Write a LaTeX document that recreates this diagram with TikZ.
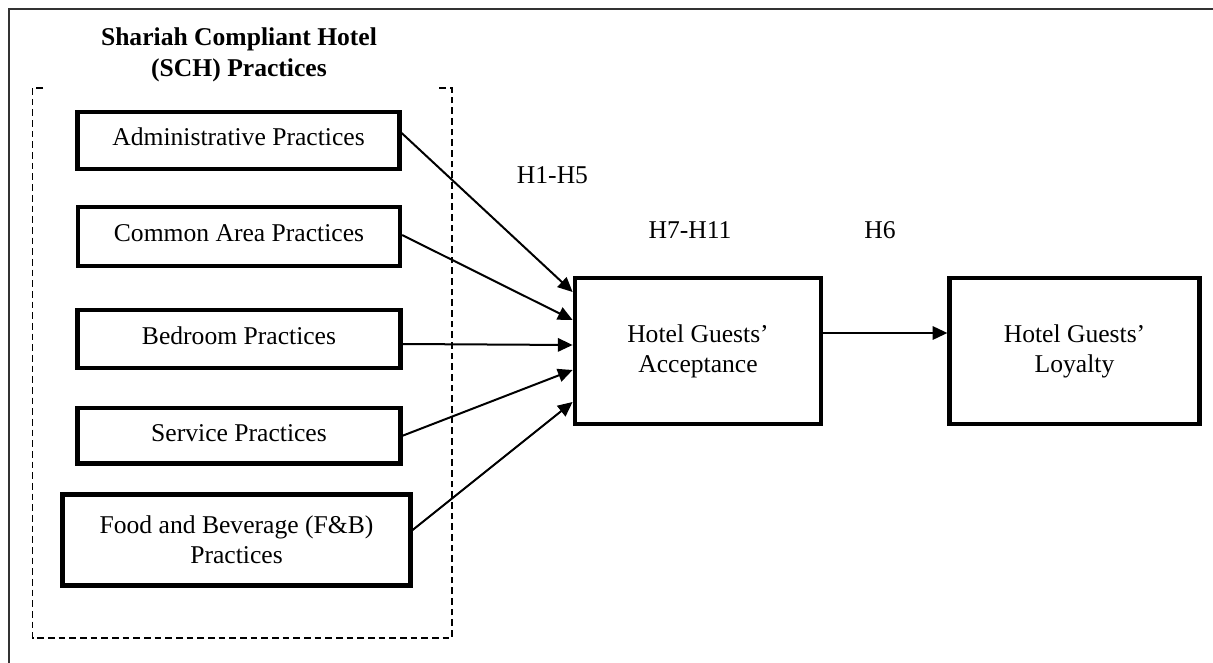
\documentclass[tikz,border=0pt]{standalone}
\usepackage{fontspec}
\setmainfont{Liberation Serif}
\usetikzlibrary{arrows.meta,calc}
\begin{document}
\begin{tikzpicture}[x=0.75pt,y=-0.75pt,
  every node/.style={font=\fontsize{19.2}{22.5}\selectfont},
  pbox/.style={draw,line width=3.2pt,inner sep=0pt,align=center},
  one/.style={text height=13pt,text depth=5pt},
  lbl/.style={inner sep=0pt},
  conn/.style={line width=1.5pt,-{Triangle[length=11pt,width=10pt]}},
  frame/.style={line width=1pt,draw=black!80},
  grp/.style={line width=0.8pt,dash pattern=on 5pt off 3pt}]
\useasboundingbox (0,0) rectangle (1213,663);
% outer frame (top and left only)
\draw[frame] (1213,9) -- (9,9) -- (9,663);
% title
\node[lbl,align=center,font=\fontsize{19.2}{23.2}\selectfont\bfseries] (title) at (239,55) {Shariah Compliant Hotel\\(SCH) Practices};
% dashed group
\coordinate (g1) at (43,88);
\coordinate (g2) at (32.5,88);
\coordinate (g3) at (32.5,638);
\coordinate (g4) at (452,638);
\coordinate (g5) at (452,88);
\coordinate (g6) at (437,88);
\draw[grp] (g1) -- (g2) -- (g3) -- (g4) -- (g5) -- (g6);
% practice boxes
\node[pbox,one,minimum width=322*0.75pt,minimum height=57*0.75pt] (adm) at (238.5,140.5) {Administrative Practices};
\node[pbox,one,minimum width=322*0.75pt,minimum height=59*0.75pt] (com) at (239,236.5) {Common Area Practices};
\node[pbox,one,minimum width=323*0.75pt,minimum height=58.5*0.75pt] (bed) at (239,339) {Bedroom Practices};
\node[pbox,one,minimum width=323*0.75pt,minimum height=55.5*0.75pt] (ser) at (239,435.7) {Service Practices};
\node[pbox,minimum width=348*0.75pt,minimum height=91*0.75pt] (fnb) at (236.5,540) {Food and Beverage (F\&B)\\Practices};
% outcome boxes
\node[pbox,minimum width=246.5*0.75pt,minimum height=146.5*0.75pt] (acc) at (698,351) {Hotel Guests'\\Acceptance};
\node[pbox,minimum width=250*0.75pt,minimum height=145.5*0.75pt] (loy) at (1074.5,351) {Hotel Guests'\\Loyalty};
% labels
\node[lbl] (h15) at (552.5,175) {H1-H5};
\node[lbl] (h711) at (690,230.5) {H7-H11};
\node[lbl] (h6) at (880,230.5) {H6};
% connector end points
\coordinate (s1) at ($(adm.east)+(0,-7.5)$);
\coordinate (s2) at ($(com.east)+(0,-1.5)$);
\coordinate (s3) at ($(bed.east)+(0,5)$);
\coordinate (s4) at ($(ser.east)+(0,0)$);
\coordinate (s5) at ($(fnb.east)+(0,-10)$);
\coordinate (t1) at ($(acc.west)+(0,-59)$);
\coordinate (t2) at ($(acc.west)+(0,-31)$);
\coordinate (t3) at ($(acc.west)+(0,-6)$);
\coordinate (t4) at ($(acc.west)+(0,19)$);
\coordinate (t5) at ($(acc.west)+(0,51)$);
\coordinate (a1) at ($(acc.east)+(0,-18)$);
\coordinate (a2) at ($(loy.west)+(0,-18)$);
\draw[conn] (s1) -- (t1);
\draw[conn] (s2) -- (t2);
\draw[conn] (s3) -- (t3);
\draw[conn] (s4) -- (t4);
\draw[conn] (s5) -- (t5);
\draw[conn] (a1) -- (a2);
\end{tikzpicture}
\end{document}
